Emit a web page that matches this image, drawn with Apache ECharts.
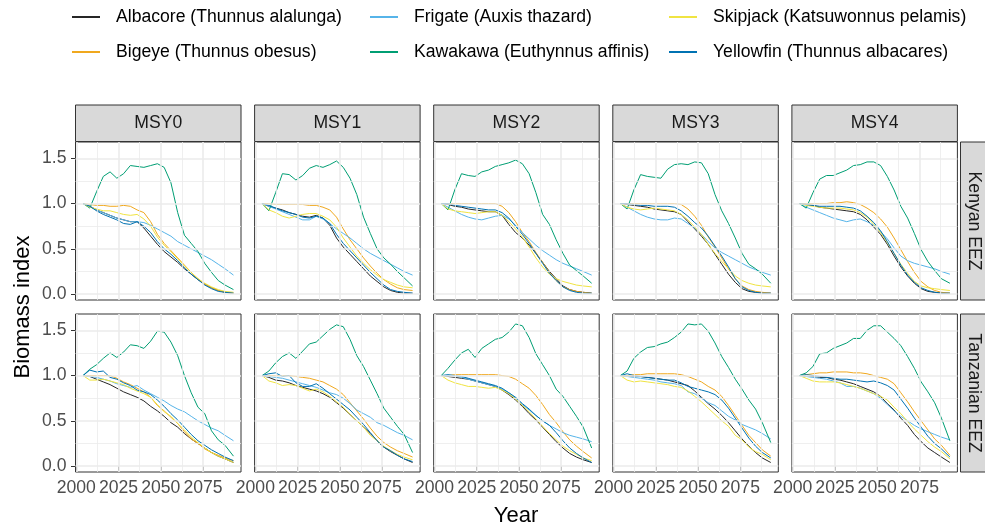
<!DOCTYPE html>
<html><head><meta charset="utf-8">
<script src="https://cdn.jsdelivr.net/npm/echarts@6/dist/echarts.min.js"></script>
<style>html,body{margin:0;padding:0;background:#fff}#c{width:985px;height:529px}</style>
</head><body><div id="c"></div>
<script>
// ---------------- data ----------------
const years = [2004, 2008, 2012, 2016, 2020, 2024, 2028, 2032, 2036, 2040, 2044, 2048, 2052, 2056, 2060, 2064, 2068, 2072, 2076, 2080, 2084, 2088, 2093];
const species = ['Albacore (Thunnus alalunga)', 'Bigeye (Thunnus obesus)', 'Frigate (Auxis thazard)', 'Kawakawa (Euthynnus affinis)', 'Skipjack (Katsuwonnus pelamis)', 'Yellowfin (Thunnus albacares)'];
const scenarios = ['MSY0', 'MSY1', 'MSY2', 'MSY3', 'MSY4'];
const regions = ['Kenyan EEZ', 'Tanzanian EEZ'];
const xTickValues = [2000, 2025, 2050, 2075];
const xMinorValues = [2012.5, 2037.5, 2062.5, 2087.5];
const yTickValues = [0, 0.5, 1.0, 1.5];
const yMinorValues = [0.25, 0.75, 1.25];

// Kenyan EEZ
const K0_albacore  = [1.00,0.97,0.93,0.90,0.87,0.84,0.82,0.80,0.80,0.73,0.64,0.55,0.47,0.41,0.35,0.28,0.22,0.16,0.11,0.07,0.04,0.02,0.01];
const K0_bigeye    = [1.00,0.99,0.98,0.98,0.97,0.97,0.98,0.97,0.93,0.90,0.80,0.66,0.56,0.48,0.40,0.32,0.24,0.17,0.11,0.07,0.04,0.02,0.01];
const K0_frigate   = [1.00,0.97,0.93,0.90,0.87,0.84,0.82,0.80,0.80,0.79,0.76,0.72,0.68,0.64,0.58,0.54,0.50,0.46,0.42,0.38,0.33,0.28,0.21];
const K0_kawakawa  = [1.00,0.95,1.13,1.30,1.35,1.28,1.33,1.42,1.41,1.40,1.42,1.44,1.40,1.23,0.90,0.65,0.56,0.47,0.34,0.24,0.15,0.10,0.05];
const K0_skipjack  = [1.00,0.96,0.94,0.92,0.92,0.90,0.88,0.87,0.88,0.83,0.75,0.63,0.54,0.47,0.39,0.31,0.24,0.17,0.12,0.08,0.05,0.03,0.02];
const K0_yellowfin = [1.00,0.97,0.92,0.88,0.85,0.82,0.78,0.77,0.80,0.75,0.68,0.58,0.50,0.44,0.37,0.29,0.22,0.16,0.10,0.06,0.03,0.02,0.01];

const K1_albacore  = [1.00,0.97,0.95,0.93,0.90,0.88,0.86,0.85,0.87,0.84,0.76,0.62,0.52,0.44,0.36,0.28,0.20,0.14,0.08,0.04,0.02,0.01,0.01];
const K1_bigeye    = [1.00,1.00,0.99,0.99,0.99,0.99,0.99,0.98,0.98,0.96,0.93,0.85,0.72,0.60,0.50,0.40,0.31,0.23,0.16,0.11,0.07,0.05,0.04];
const K1_frigate   = [1.00,0.97,0.94,0.91,0.88,0.85,0.82,0.82,0.86,0.83,0.78,0.72,0.67,0.62,0.56,0.50,0.45,0.41,0.37,0.33,0.29,0.25,0.21];
const K1_kawakawa  = [1.00,0.92,1.12,1.33,1.32,1.26,1.31,1.39,1.42,1.40,1.43,1.47,1.40,1.28,1.10,0.85,0.67,0.50,0.40,0.33,0.25,0.18,0.09];
const K1_skipjack  = [1.00,0.93,0.90,0.86,0.84,0.86,0.88,0.89,0.89,0.86,0.82,0.74,0.62,0.52,0.42,0.34,0.27,0.21,0.16,0.13,0.10,0.08,0.07];
const K1_yellowfin = [1.00,0.98,0.95,0.92,0.90,0.88,0.85,0.84,0.86,0.84,0.78,0.66,0.56,0.48,0.40,0.32,0.24,0.17,0.10,0.05,0.03,0.02,0.01];

const K2_albacore  = [1.00,0.99,0.97,0.96,0.94,0.93,0.92,0.91,0.91,0.87,0.77,0.68,0.62,0.54,0.45,0.35,0.25,0.17,0.09,0.05,0.03,0.02,0.01];
const K2_bigeye    = [1.00,1.00,1.00,1.00,1.00,1.00,1.00,1.00,1.00,0.97,0.90,0.80,0.68,0.58,0.46,0.35,0.24,0.15,0.08,0.05,0.03,0.02,0.01];
const K2_frigate   = [1.00,0.96,0.92,0.88,0.85,0.83,0.82,0.84,0.86,0.87,0.83,0.76,0.68,0.61,0.54,0.48,0.43,0.38,0.34,0.31,0.28,0.25,0.21];
const K2_kawakawa  = [1.00,0.93,1.15,1.33,1.31,1.30,1.35,1.37,1.41,1.43,1.45,1.48,1.44,1.33,1.12,0.88,0.77,0.60,0.45,0.32,0.26,0.20,0.12];
const K2_skipjack  = [1.00,0.94,0.92,0.91,0.90,0.89,0.90,0.91,0.91,0.87,0.80,0.72,0.63,0.52,0.40,0.30,0.22,0.17,0.14,0.12,0.10,0.09,0.08];
const K2_yellowfin = [1.00,1.00,0.98,0.97,0.96,0.95,0.94,0.93,0.93,0.90,0.84,0.75,0.66,0.56,0.45,0.34,0.23,0.15,0.08,0.04,0.02,0.01,0.01];

const K3_albacore  = [1.00,0.99,0.98,0.97,0.96,0.94,0.93,0.92,0.91,0.88,0.80,0.72,0.64,0.55,0.44,0.33,0.22,0.13,0.06,0.03,0.02,0.01,0.01];
const K3_bigeye    = [1.00,1.00,1.00,1.00,1.00,1.00,1.00,1.00,1.00,0.99,0.94,0.86,0.76,0.63,0.52,0.40,0.28,0.17,0.09,0.05,0.03,0.02,0.01];
const K3_frigate   = [1.00,0.96,0.92,0.88,0.85,0.83,0.82,0.82,0.84,0.83,0.78,0.73,0.66,0.58,0.51,0.46,0.42,0.38,0.34,0.30,0.27,0.24,0.21];
const K3_kawakawa  = [1.00,0.94,1.15,1.32,1.30,1.29,1.28,1.38,1.43,1.44,1.43,1.46,1.45,1.33,1.10,0.92,0.78,0.62,0.45,0.33,0.28,0.22,0.12];
const K3_skipjack  = [1.00,0.96,0.94,0.93,0.94,0.95,0.94,0.93,0.92,0.88,0.82,0.74,0.66,0.55,0.45,0.36,0.28,0.20,0.15,0.12,0.10,0.09,0.08];
const K3_yellowfin = [1.00,1.00,0.99,0.98,0.98,0.97,0.97,0.97,0.96,0.92,0.86,0.79,0.73,0.64,0.53,0.42,0.30,0.17,0.08,0.04,0.02,0.01,0.01];

const K4_albacore  = [1.00,0.99,0.98,0.96,0.95,0.94,0.93,0.92,0.91,0.88,0.82,0.74,0.66,0.55,0.42,0.30,0.20,0.12,0.06,0.03,0.02,0.01,0.01];
const K4_bigeye    = [1.00,1.00,1.00,1.00,1.00,1.01,1.01,1.02,1.01,0.99,0.95,0.90,0.83,0.74,0.62,0.49,0.36,0.24,0.14,0.08,0.04,0.02,0.01];
const K4_frigate   = [1.00,0.96,0.93,0.90,0.87,0.84,0.82,0.80,0.82,0.83,0.80,0.76,0.69,0.61,0.51,0.42,0.37,0.34,0.32,0.30,0.28,0.25,0.22];
const K4_kawakawa  = [1.00,0.95,1.12,1.27,1.31,1.31,1.34,1.37,1.42,1.43,1.46,1.46,1.42,1.30,1.15,0.97,0.84,0.67,0.49,0.36,0.26,0.17,0.12];
const K4_skipjack  = [1.00,0.98,0.97,0.96,0.95,0.95,0.95,0.94,0.93,0.90,0.85,0.77,0.68,0.57,0.45,0.33,0.23,0.14,0.09,0.07,0.06,0.05,0.04];
const K4_yellowfin = [1.00,0.99,0.98,0.97,0.97,0.97,0.97,0.96,0.95,0.92,0.86,0.79,0.70,0.58,0.45,0.32,0.21,0.13,0.07,0.04,0.02,0.01,0.01];

// Tanzanian EEZ
const T0_albacore  = [1.00,0.99,0.96,0.93,0.90,0.86,0.82,0.79,0.76,0.72,0.66,0.61,0.55,0.48,0.43,0.36,0.30,0.25,0.20,0.15,0.11,0.08,0.04];
const T0_bigeye    = [1.00,1.00,1.00,1.00,1.00,0.97,0.93,0.90,0.86,0.82,0.76,0.67,0.61,0.54,0.47,0.38,0.30,0.25,0.19,0.15,0.12,0.09,0.06];
const T0_frigate   = [1.00,0.99,0.98,0.96,0.94,0.91,0.89,0.87,0.89,0.84,0.80,0.76,0.72,0.67,0.63,0.60,0.55,0.50,0.46,0.42,0.39,0.34,0.28];
const T0_kawakawa  = [1.00,1.07,1.12,1.19,1.25,1.20,1.26,1.34,1.33,1.30,1.38,1.49,1.48,1.37,1.22,1.00,0.81,0.65,0.58,0.39,0.29,0.23,0.11];
const T0_skipjack  = [1.00,0.95,0.95,0.96,0.94,0.92,0.90,0.86,0.83,0.80,0.76,0.68,0.60,0.55,0.47,0.40,0.32,0.26,0.20,0.15,0.11,0.08,0.04];
const T0_yellowfin = [1.00,1.06,1.04,1.05,0.98,0.96,0.92,0.89,0.84,0.82,0.79,0.73,0.66,0.58,0.51,0.43,0.35,0.28,0.23,0.18,0.14,0.10,0.06];

const T1_albacore  = [1.00,0.98,0.95,0.94,0.92,0.89,0.87,0.85,0.83,0.80,0.76,0.70,0.64,0.57,0.50,0.43,0.36,0.28,0.21,0.16,0.12,0.08,0.04];
const T1_bigeye    = [1.00,1.00,1.00,1.00,1.00,0.99,0.98,0.97,0.95,0.93,0.89,0.85,0.79,0.70,0.61,0.52,0.42,0.33,0.26,0.21,0.17,0.14,0.10];
const T1_frigate   = [1.00,0.99,0.98,0.97,0.95,0.93,0.91,0.89,0.87,0.84,0.81,0.79,0.75,0.69,0.62,0.58,0.54,0.48,0.45,0.41,0.37,0.34,0.29];
const T1_kawakawa  = [1.00,1.05,1.14,1.21,1.25,1.19,1.27,1.35,1.37,1.44,1.51,1.56,1.54,1.40,1.22,1.10,0.95,0.80,0.64,0.54,0.44,0.35,0.15];
const T1_skipjack  = [1.00,0.94,0.92,0.89,0.90,0.89,0.86,0.83,0.85,0.82,0.77,0.71,0.65,0.57,0.50,0.43,0.34,0.28,0.22,0.17,0.13,0.10,0.07];
const T1_yellowfin = [1.00,1.02,1.03,0.99,1.00,0.92,0.88,0.88,0.91,0.86,0.80,0.74,0.68,0.62,0.54,0.46,0.37,0.28,0.21,0.17,0.12,0.08,0.05];

const T2_albacore  = [1.00,0.99,0.98,0.97,0.96,0.94,0.92,0.90,0.88,0.84,0.79,0.73,0.66,0.58,0.51,0.43,0.35,0.27,0.20,0.14,0.10,0.07,0.04];
const T2_bigeye    = [1.00,1.00,1.01,1.01,1.01,1.01,1.01,1.01,1.01,1.00,0.99,0.96,0.91,0.86,0.78,0.68,0.57,0.48,0.38,0.29,0.22,0.16,0.09];
const T2_frigate   = [1.00,1.00,1.00,0.98,0.96,0.94,0.92,0.90,0.88,0.85,0.81,0.75,0.68,0.62,0.56,0.50,0.45,0.41,0.37,0.34,0.32,0.30,0.27];
const T2_kawakawa  = [1.00,1.08,1.17,1.25,1.29,1.20,1.30,1.35,1.40,1.42,1.48,1.57,1.55,1.42,1.24,1.12,1.00,0.85,0.77,0.66,0.55,0.43,0.20];
const T2_skipjack  = [1.00,0.95,0.92,0.90,0.88,0.88,0.87,0.86,0.87,0.84,0.80,0.74,0.67,0.60,0.52,0.44,0.36,0.29,0.22,0.17,0.13,0.09,0.06];
const T2_yellowfin = [1.00,1.01,1.00,0.99,0.97,0.95,0.93,0.91,0.89,0.86,0.81,0.76,0.69,0.63,0.56,0.50,0.45,0.37,0.28,0.20,0.14,0.09,0.04];

const T3_albacore  = [1.00,0.99,0.99,0.99,0.98,0.97,0.96,0.95,0.93,0.91,0.89,0.83,0.76,0.69,0.63,0.56,0.48,0.39,0.30,0.22,0.15,0.09,0.04];
const T3_bigeye    = [1.00,1.00,1.01,1.01,1.02,1.02,1.02,1.02,1.02,1.01,0.99,0.96,0.93,0.88,0.84,0.77,0.67,0.56,0.45,0.34,0.26,0.18,0.11];
const T3_frigate   = [1.00,0.99,0.98,0.97,0.96,0.95,0.93,0.92,0.91,0.89,0.82,0.80,0.75,0.70,0.67,0.61,0.55,0.51,0.46,0.43,0.40,0.36,0.30];
const T3_kawakawa  = [1.00,1.05,1.19,1.26,1.31,1.32,1.35,1.37,1.42,1.48,1.57,1.56,1.57,1.49,1.36,1.21,1.09,0.96,0.85,0.73,0.63,0.48,0.26];
const T3_skipjack  = [1.00,0.95,0.93,0.94,0.93,0.92,0.91,0.90,0.88,0.87,0.83,0.77,0.71,0.64,0.57,0.50,0.44,0.34,0.29,0.21,0.16,0.13,0.07];
const T3_yellowfin = [1.00,1.02,1.00,0.99,0.98,0.97,0.96,0.95,0.95,0.92,0.88,0.86,0.84,0.82,0.79,0.73,0.64,0.53,0.42,0.31,0.22,0.15,0.09];

const T4_albacore  = [1.00,0.99,0.99,0.98,0.98,0.96,0.95,0.93,0.91,0.88,0.85,0.82,0.77,0.69,0.62,0.53,0.45,0.35,0.27,0.20,0.15,0.10,0.04];
const T4_bigeye    = [1.00,1.01,1.02,1.03,1.03,1.04,1.04,1.04,1.03,1.03,1.02,1.00,0.98,0.96,0.91,0.81,0.71,0.60,0.50,0.40,0.30,0.23,0.12];
const T4_frigate   = [1.00,0.99,0.98,0.97,0.96,0.94,0.92,0.88,0.88,0.86,0.83,0.80,0.75,0.68,0.61,0.55,0.50,0.45,0.41,0.38,0.35,0.32,0.29];
const T4_kawakawa  = [1.00,1.03,1.10,1.24,1.25,1.30,1.33,1.36,1.41,1.41,1.50,1.55,1.55,1.48,1.41,1.33,1.21,1.08,0.93,0.82,0.70,0.53,0.28];
const T4_skipjack  = [1.00,0.97,0.94,0.93,0.93,0.93,0.92,0.90,0.88,0.86,0.83,0.80,0.77,0.73,0.65,0.58,0.49,0.41,0.34,0.27,0.21,0.16,0.08];
const T4_yellowfin = [1.00,1.01,1.00,0.99,0.98,0.97,0.96,0.96,0.95,0.94,0.93,0.94,0.92,0.89,0.84,0.74,0.64,0.53,0.43,0.33,0.25,0.19,0.10];

const panelData = [
  [
    [K0_albacore, K0_bigeye, K0_frigate, K0_kawakawa, K0_skipjack, K0_yellowfin],
    [K1_albacore, K1_bigeye, K1_frigate, K1_kawakawa, K1_skipjack, K1_yellowfin],
    [K2_albacore, K2_bigeye, K2_frigate, K2_kawakawa, K2_skipjack, K2_yellowfin],
    [K3_albacore, K3_bigeye, K3_frigate, K3_kawakawa, K3_skipjack, K3_yellowfin],
    [K4_albacore, K4_bigeye, K4_frigate, K4_kawakawa, K4_skipjack, K4_yellowfin]
  ],
  [
    [T0_albacore, T0_bigeye, T0_frigate, T0_kawakawa, T0_skipjack, T0_yellowfin],
    [T1_albacore, T1_bigeye, T1_frigate, T1_kawakawa, T1_skipjack, T1_yellowfin],
    [T2_albacore, T2_bigeye, T2_frigate, T2_kawakawa, T2_skipjack, T2_yellowfin],
    [T3_albacore, T3_bigeye, T3_frigate, T3_kawakawa, T3_skipjack, T3_yellowfin],
    [T4_albacore, T4_bigeye, T4_frigate, T4_kawakawa, T4_skipjack, T4_yellowfin]
  ]
];

// ---------------- style / layout ----------------
const colors = ['#262626', '#F0A81E', '#56B4E9', '#009E73', '#F0E442', '#0072B2'];
const FONT = '"Liberation Sans", Arial, Helvetica, sans-serif';
const panelLeft = [75.5, 254.6, 433.7, 612.8, 791.9];
const panelW = 165.5;
const panelTop = [142, 314];
const panelH = 158;
const xMin = 1999.55, xMax = 2097.45;
const yMin = -0.065, yMax = 1.68;

const majorStyle = {color: '#ebebeb', width: 1.6, type: 'solid'};
const minorStyle = {color: '#ebebeb', width: 0.8, type: 'solid'};
const gridLineData = [
  ...xMinorValues.map(v => ({xAxis: v, lineStyle: minorStyle})),
  ...yMinorValues.map(v => ({yAxis: v, lineStyle: minorStyle})),
  ...xTickValues.map(v => ({xAxis: v, lineStyle: majorStyle})),
  ...yTickValues.map(v => ({yAxis: v, lineStyle: majorStyle}))
];

const grids = [], xAxes = [], yAxes = [], series = [], graphics = [];
for (let r = 0; r < 2; r++) {
  for (let c = 0; c < 5; c++) {
    const g = r * 5 + c;
    grids.push({left: panelLeft[c], top: panelTop[r], width: panelW, height: panelH,
      show: true, backgroundColor: '#ffffff', borderColor: '#333333', borderWidth: 1, containLabel: false});
    xAxes.push({gridIndex: g, type: 'value', min: xMin, max: xMax,
      axisLine: {show: false}, splitLine: {show: false},
      axisTick: {show: r === 1, customValues: xTickValues, length: 4.5, lineStyle: {color: '#333333', width: 1}},
      axisLabel: {show: r === 1, customValues: xTickValues, fontSize: 17.6, color: '#4d4d4d', margin: 7, fontFamily: FONT,
        formatter: v => String(v)}
    });
    yAxes.push({gridIndex: g, type: 'value', min: yMin, max: yMax,
      axisLine: {show: false}, splitLine: {show: false},
      axisTick: {show: c === 0, customValues: yTickValues, length: 4.5, lineStyle: {color: '#333333', width: 1}},
      axisLabel: {show: c === 0, customValues: yTickValues, fontSize: 17.6, color: '#4d4d4d', margin: 9, fontFamily: FONT,
        formatter: v => v.toFixed(1)}
    });
    series.push({type: 'line', name: '__grid' + g, xAxisIndex: g, yAxisIndex: g, data: [], silent: true, z: 1,
      markLine: {silent: true, symbol: ['none', 'none'], label: {show: false}, animation: false,
        emphasis: {disabled: true}, data: gridLineData}});
    for (let s = 0; s < species.length; s++) {
      const vals = panelData[r][c][s];
      series.push({type: 'line', name: species[s], xAxisIndex: g, yAxisIndex: g,
        data: years.map((yr, i) => [yr, vals[i]]),
        showSymbol: false, symbol: 'none', z: 3, silent: true,
        color: colors[s],
        lineStyle: {color: colors[s], width: 1},
        emphasis: {disabled: true}});
    }
  }
}

// strips (top)
for (let c = 0; c < 5; c++) {
  graphics.push({type: 'rect', shape: {x: panelLeft[c], y: 105, width: panelW, height: 36.5},
    style: {fill: '#d9d9d9', stroke: '#333333', lineWidth: 1}, z: 10});
  graphics.push({type: 'text', x: panelLeft[c] + panelW / 2, y: 123.5,
    style: {text: scenarios[c], fontSize: 17.6, fill: '#1a1a1a', fontFamily: FONT, align: 'center', verticalAlign: 'middle'}, z: 11});
}
// strips (right)
for (let r = 0; r < 2; r++) {
  graphics.push({type: 'rect', shape: {x: 960.5, y: panelTop[r], width: 40, height: panelH},
    style: {fill: '#d9d9d9', stroke: '#333333', lineWidth: 1}, z: 10});
  graphics.push({type: 'text', x: 973.5, y: panelTop[r] + panelH / 2, rotation: -Math.PI / 2,
    style: {text: regions[r], fontSize: 17.6, fill: '#1a1a1a', fontFamily: FONT, align: 'center', verticalAlign: 'middle'}, z: 11});
}
// axis titles
graphics.push({type: 'text', x: 516, y: 516,
  style: {text: 'Year', fontSize: 22, fill: '#000000', fontFamily: FONT, align: 'center', verticalAlign: 'middle'}, z: 11});
graphics.push({type: 'text', x: 23, y: 307, rotation: Math.PI / 2,
  style: {text: 'Biomass index', fontSize: 22, fill: '#000000', fontFamily: FONT, align: 'center', verticalAlign: 'middle'}, z: 11});

const legendBase = {orient: 'vertical', top: 7, itemGap: 15, itemWidth: 28, itemHeight: 2, icon: 'rect',
  selectedMode: false, padding: 0,
  textStyle: {fontSize: 17.6, color: '#000000', fontFamily: FONT, lineHeight: 20, padding: [0, 0, 0, 11]}};
const legends = [
  Object.assign({}, legendBase, {left: 72, data: [species[0], species[1]]}),
  Object.assign({}, legendBase, {left: 370, data: [species[2], species[3]]}),
  Object.assign({}, legendBase, {left: 669, data: [species[4], species[5]]})
];

const chart = echarts.init(document.getElementById('c'), null, {renderer: 'canvas'});
chart.setOption({
  backgroundColor: '#ffffff',
  animation: false,
  color: colors,
  legend: legends,
  grid: grids,
  xAxis: xAxes,
  yAxis: yAxes,
  series: series,
  graphic: graphics
});
</script>
</body></html>
